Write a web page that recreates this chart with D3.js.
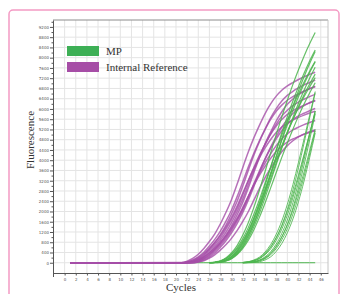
<!DOCTYPE html>
<html lang="en">
<head>
<meta charset="UTF-8">
<title>Amplification curves</title>
<script src="https://cdn.jsdelivr.net/npm/d3@7"></script>
<style>
  body { margin: 0; background: #fff; }
  .tick text { font: 4px "DejaVu Sans", sans-serif; fill: #555; }
  .tick line { stroke: #555; }
  .domain { stroke: #555; }
  .serif { font-family: "Liberation Serif", "Times New Roman", serif; fill: #333; }
</style>
</head>
<body>
<svg id="chart" width="344" height="294"></svg>
<script>

// axis labels
var yTicks = [0, 400, 800, 1200, 1600, 2000, 2400, 2800, 3200, 3600, 4000, 4400, 4800,
              5200, 5600, 6000, 6400, 6800, 7200, 7600, 8000, 8400, 8800, 9200];
var xTicks = [0, 2, 4, 6, 8, 10, 12, 14, 16, 18, 20, 22, 24, 26, 28, 30, 32, 34, 36, 38, 40, 42, 44, 46];
var seriesNames = ["MP", "Internal Reference"];

// Internal Reference wells: fluorescence for cycles 21..45 (0 from cycle 1 before that)
var refStart = 21;
var refCurves = [
  [10,60,170,330,560,830,1140,1530,1980,2480,3080,3720,4330,4880,5370,5820,6200,6500,6730,6900,7030,7150,7250,7350,7430],
  [0,30,110,230,410,650,920,1240,1630,2070,2590,3160,3740,4280,4770,5200,5590,5910,6150,6340,6480,6590,6700,6790,6870],
  [0,30,90,200,360,560,790,1070,1400,1780,2220,2720,3220,3680,4100,4480,4810,5080,5290,5450,5570,5670,5760,5840,5910],
  [0,10,60,160,320,540,810,1110,1480,1920,2410,2990,3610,4200,4730,5210,5650,6010,6310,6530,6690,6820,6940,7030,7130],
  [0,10,40,120,230,390,580,800,1070,1390,1740,2160,2600,3030,3420,3760,4070,4340,4550,4710,4830,4920,5010,5080,5150],
  [0,10,50,150,280,480,710,980,1320,1700,2130,2650,3200,3720,4200,4620,5010,5330,5590,5790,5930,6050,6150,6240,6320],
  [0,0,30,100,230,400,630,890,1200,1580,2010,2500,3060,3620,4150,4610,5040,5410,5720,5950,6130,6270,6380,6480,6570],
  [0,0,30,90,190,340,530,750,1010,1330,1700,2110,2580,3060,3500,3900,4250,4570,4830,5030,5180,5290,5390,5470,5550],
  [0,0,10,50,140,270,460,690,950,1270,1640,2060,2560,3090,3590,4050,4460,4830,5150,5400,5590,5730,5830,5930,6020],
  [0,0,10,60,160,310,530,790,1080,1450,1880,2360,2930,3530,4110,4640,5100,5530,5890,6180,6390,6560,6680,6790,6890],
  [0,0,0,30,100,220,390,610,870,1180,1540,1960,2450,2990,3540,4050,4510,4920,5290,5590,5820,6000,6130,6240,6340],
  [0,0,0,30,80,180,320,500,710,960,1260,1610,2000,2450,2900,3320,3690,4030,4330,4570,4760,4910,5020,5110,5180]
];

// MP wells, earlier group: cycles 26..45
var mpEarlyStart = 26;
var mpEarly = [
  [10,30,80,200,390,680,1080,1570,2170,2840,3560,4280,5000,5690,6340,6960,7530,8060,8540,8980],
  [0,20,70,170,340,590,940,1380,1900,2480,3110,3750,4380,4980,5550,6090,6590,7050,7470,7860],
  [0,20,70,160,310,540,860,1260,1740,2280,2860,3440,4020,4570,5100,5590,6050,6480,6860,7220],
  [0,10,40,120,250,480,810,1230,1750,2350,3020,3710,4400,5070,5700,6310,6870,7390,7870,8300],
  [0,10,40,100,230,420,710,1090,1550,2090,2680,3290,3900,4490,5060,5590,6090,6550,6970,7360],
  [0,10,40,110,240,450,760,1160,1650,2220,2850,3500,4150,4780,5380,5950,6480,6970,7420,7830],
  [0,10,30,80,190,370,650,1040,1520,2090,2740,3430,4130,4820,5490,6120,6710,7260,7770,8240],
  [0,0,20,70,160,320,560,880,1290,1780,2330,2920,3520,4110,4670,5210,5720,6190,6620,7020],
  [0,10,30,80,180,350,610,960,1410,1940,2540,3180,3830,4470,5080,5670,6220,6730,7200,7630]
];

// MP wells, later group: cycles 32..45
var mpLateStart = 32;
var mpLate = [
  [10,40,110,220,420,710,1110,1630,2280,3050,3920,4830,5750,6680],
  [10,40,90,190,370,630,980,1430,2000,2670,3430,4230,5040,5850],
  [10,30,70,160,310,540,870,1310,1860,2540,3320,4170,5040,5920],
  [10,30,80,170,340,600,970,1460,2080,2840,3710,4670,5650,6630],
  [0,10,40,100,200,380,650,1010,1470,2060,2760,3540,4370,5210],
  [0,10,40,110,230,430,730,1140,1670,2340,3130,4030,4970,5920],
  [0,10,30,70,160,310,550,890,1330,1900,2590,3380,4250,5140],
  [0,10,30,80,180,350,620,1000,1500,2140,2920,3810,4790,5800],
  [0,0,10,40,110,230,440,750,1170,1710,2390,3190,4100,5060]
];

// negative wells, cycles 1..45
var negCurve = [0,0,0,0,0,0,0,0,0,0,0,0,0,0,0,0,0,0,0,0,0,0,0,0,0,0,0,0,0,0,0,0,0,0,0,0,0,0,0,0,0,0,0,0,0];

var green = "#3daf55", greenLine = "#4cb54e";
var purple = "#a64da6", purpleLine = "#a54ea7";

var svg = d3.select("#chart");

// pink frame
svg.append("rect")
   .attr("x", 9).attr("y", 10)
   .attr("width", 330).attr("height", 320)
   .attr("rx", 4)
   .attr("fill", "#fff")
   .attr("stroke", "#f49ac4")
   .attr("stroke-width", 1.5);

var plotLeft = 53, plotRight = 328, plotTop = 20, plotBottom = 273;

var x = d3.scaleLinear().domain([-2, 47.3]).range([plotLeft + 0.5, plotRight]);
var y = d3.scaleLinear().domain([-400, 9470]).range([plotBottom, plotTop]);

// grid
svg.append("g").selectAll("line")
   .data(xTicks).enter().append("line")
   .attr("x1", function(d) { return x(d); }).attr("x2", function(d) { return x(d); })
   .attr("y1", plotTop).attr("y2", plotBottom)
   .attr("stroke", "#e4e4e4").attr("stroke-width", 1);

svg.append("g").selectAll("line")
   .data(yTicks).enter().append("line")
   .attr("x1", plotLeft).attr("x2", plotRight)
   .attr("y1", function(d) { return y(d); }).attr("y2", function(d) { return y(d); })
   .attr("stroke", "#e4e4e4").attr("stroke-width", 1);

// plot border top / right
svg.append("line").attr("x1", plotLeft).attr("x2", plotRight).attr("y1", plotTop).attr("y2", plotTop)
   .attr("stroke", "#8c8c8c").attr("stroke-width", 1);
svg.append("line").attr("x1", plotRight).attr("x2", plotRight).attr("y1", plotTop).attr("y2", plotBottom)
   .attr("stroke", "#c4c4c4").attr("stroke-width", 1);

// curves
var line = d3.line()
   .x(function(d) { return x(d[0]); })
   .y(function(d) { return y(d[1]); })
   .curve(d3.curveMonotoneX);

function points(vals, start) {
  return vals.map(function(v, i) { return [start + i, v]; });
}

var curves = svg.append("g").attr("fill", "none");

curves.append("path")
   .attr("d", line(points(negCurve, 1)))
   .attr("stroke", greenLine).attr("stroke-width", 1);

curves.selectAll("path.ref")
   .data(refCurves).enter().append("path")
   .attr("class", "ref")
   .attr("d", function(d) { return line([[1, 0]].concat(points(d, refStart))); })
   .attr("stroke", purpleLine).attr("stroke-width", 1.5).attr("stroke-opacity", 0.8);

// green baselines sit on the negative line, so start them where they lift off
curves.selectAll("path.early")
   .data(mpEarly).enter().append("path")
   .attr("class", "early")
   .attr("d", function(d) { return line(points(d, mpEarlyStart)); })
   .attr("stroke", greenLine).attr("stroke-width", 1.2).attr("stroke-opacity", 0.85);

curves.selectAll("path.late")
   .data(mpLate).enter().append("path")
   .attr("class", "late")
   .attr("d", function(d) { return line(points(d, mpLateStart)); })
   .attr("stroke", greenLine).attr("stroke-width", 1).attr("stroke-opacity", 0.85);

// axes
var yAxis = d3.axisLeft(y).tickValues(yTicks).tickFormat(d3.format("d"))
   .tickSize(3).tickSizeOuter(0).tickPadding(1);
svg.append("g").attr("transform", "translate(" + plotLeft + ",0)").call(yAxis);

var yMinor = yTicks.map(function(d) { return d + 200; });
svg.append("g").attr("transform", "translate(" + plotLeft + ",0)")
   .call(d3.axisLeft(y).tickValues(yMinor).tickSize(1.5).tickFormat("").tickSizeOuter(0))
   .select(".domain").remove();

var xAxis = d3.axisBottom(x).tickValues(xTicks).tickSize(2.5).tickSizeOuter(0).tickPadding(3);
svg.append("g").attr("transform", "translate(0," + plotBottom + ")").call(xAxis);

svg.append("line").attr("x1", x(-2)).attr("x2", x(-2)).attr("y1", plotBottom).attr("y2", plotBottom + 4)
   .attr("stroke", "#555");

// legend
var legend = svg.append("g");
legend.selectAll("rect")
   .data(seriesNames).enter().append("rect")
   .attr("x", 67)
   .attr("y", function(d, i) { return 46 + i * 16; })
   .attr("width", 32).attr("height", 10)
   .attr("fill", function(d, i) { return i === 0 ? green : purple; });
legend.selectAll("text")
   .data(seriesNames).enter().append("text")
   .attr("class", "serif")
   .attr("x", 106)
   .attr("y", function(d, i) { return 55 + i * 16; })
   .style("font-size", "11px")
   .text(function(d) { return d; });

// axis titles
svg.append("text").attr("class", "serif")
   .attr("transform", "translate(34,140) rotate(-90)")
   .attr("text-anchor", "middle")
   .style("font-size", "11px")
   .text("Fluorescence");

svg.append("text").attr("class", "serif")
   .attr("x", 181).attr("y", 291)
   .attr("text-anchor", "middle")
   .style("font-size", "11px")
   .text("Cycles");

</script>
</body>
</html>
